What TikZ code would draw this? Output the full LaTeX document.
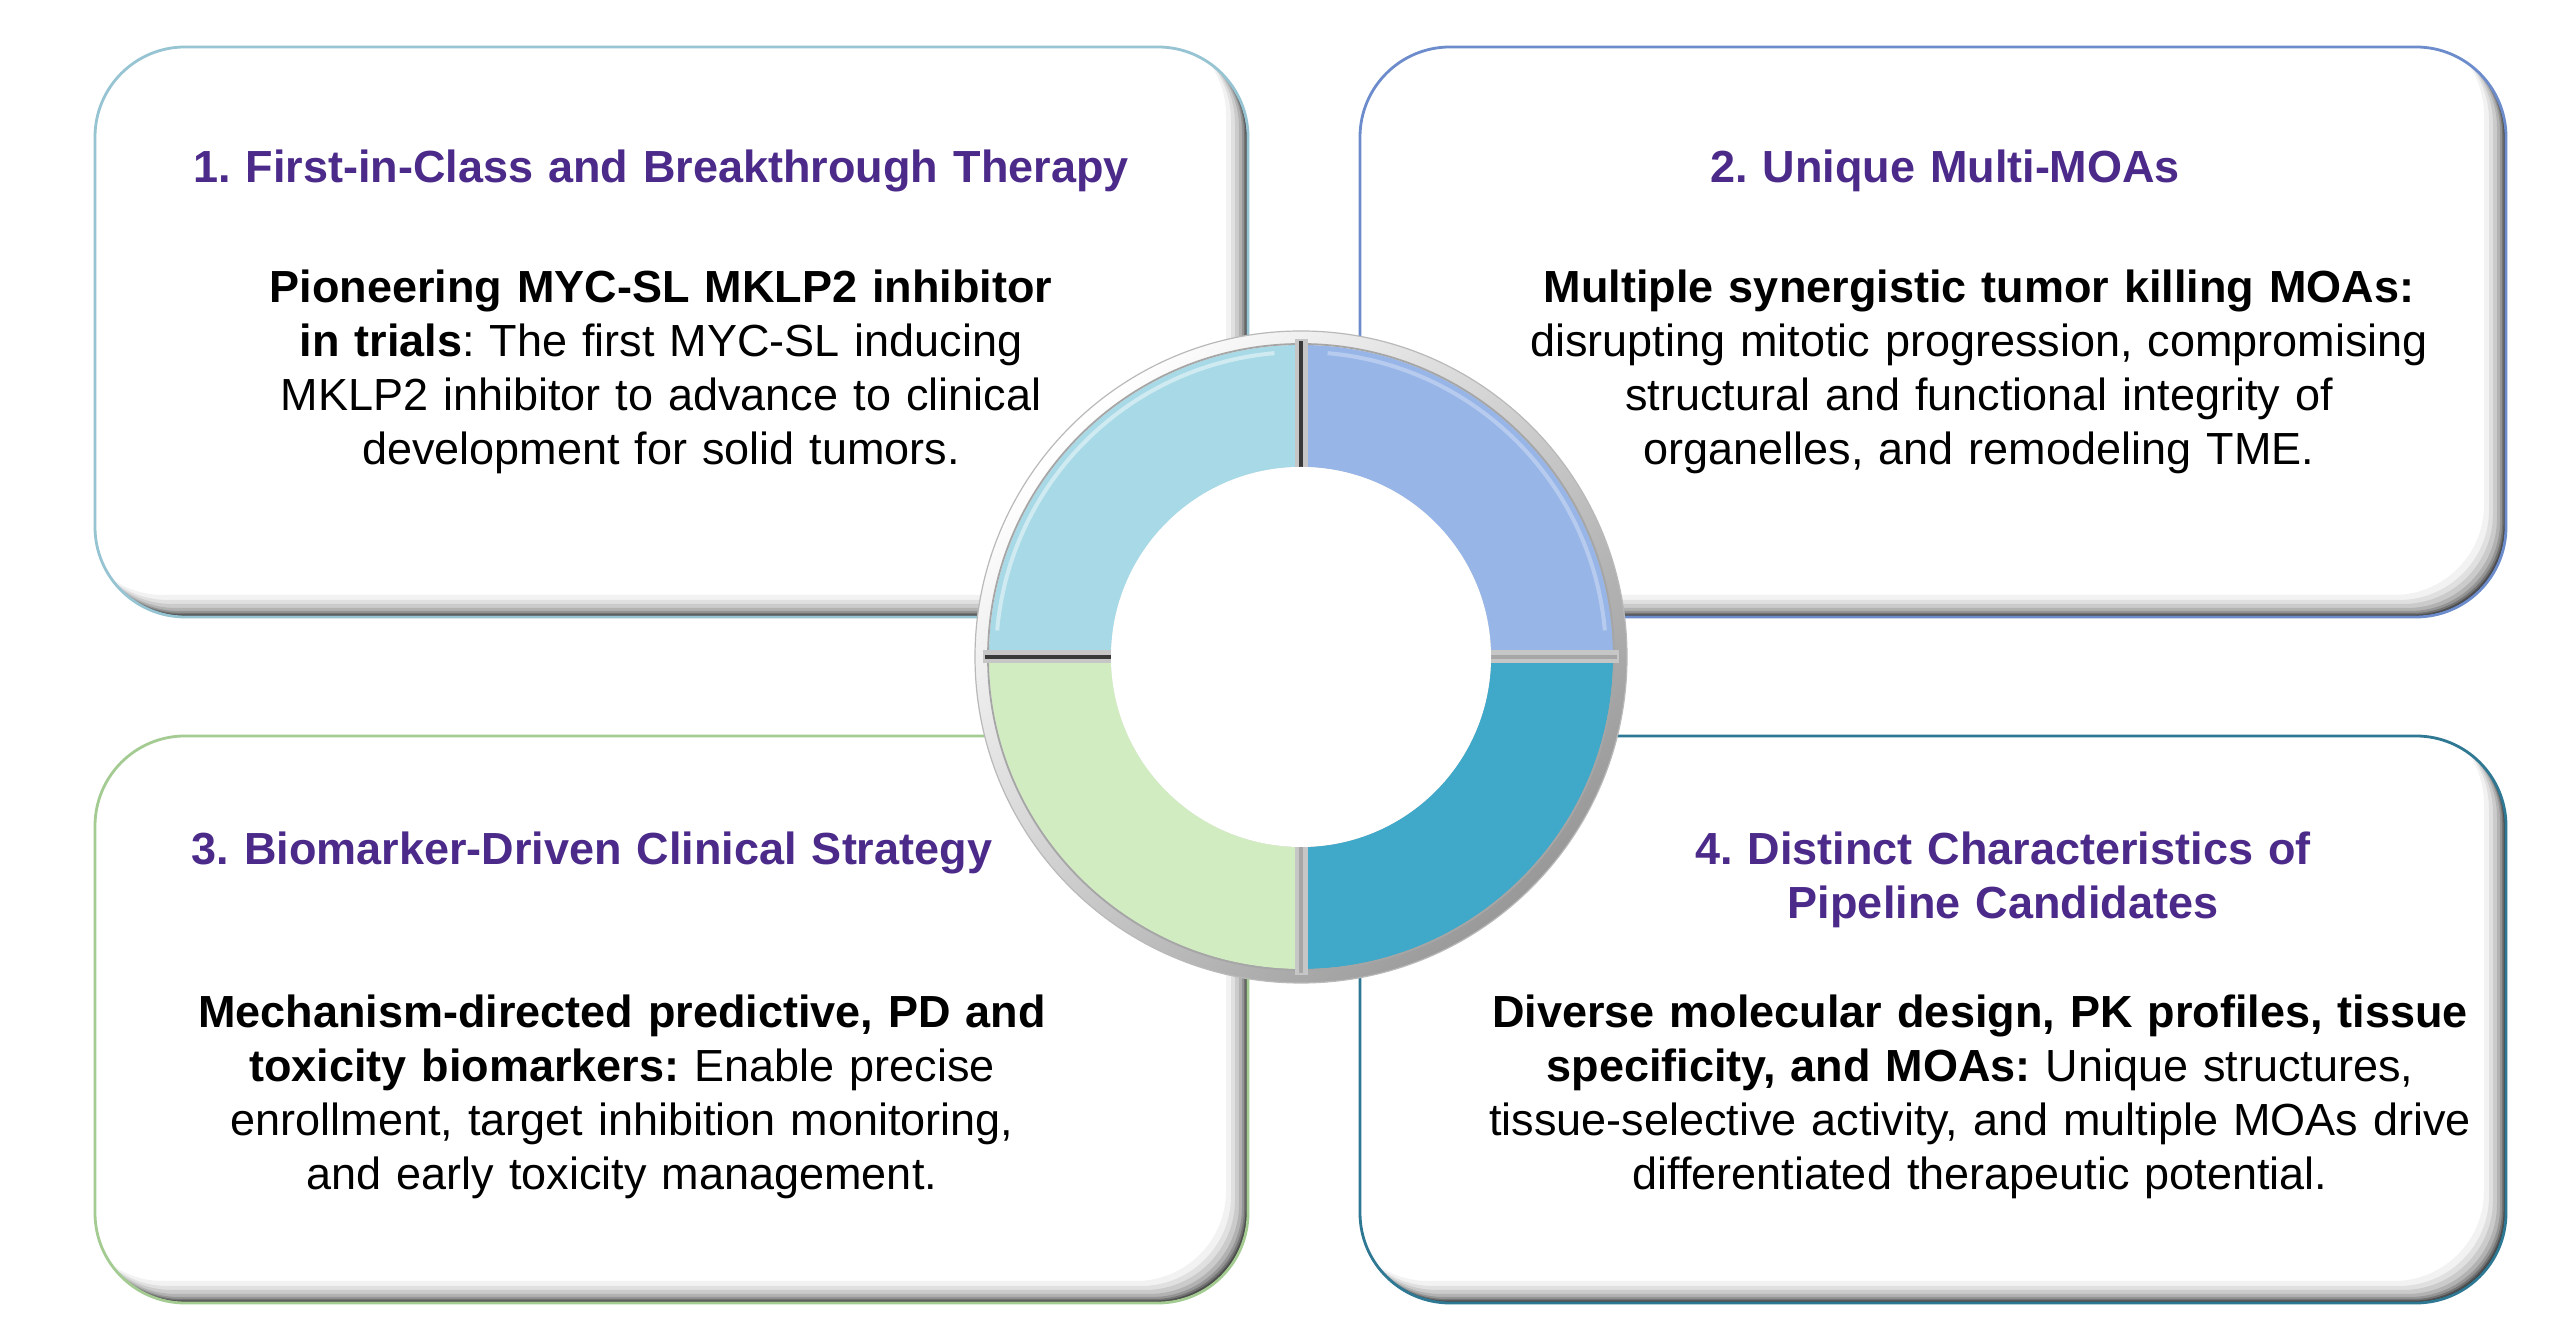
\documentclass[tikz,border=0pt]{standalone}
\usepackage{fontspec}
\setmainfont{Liberation Sans}
\frenchspacing
\definecolor{titlepurple}{RGB}{75,42,138}
\definecolor{segTL}{RGB}{168,217,230}
\definecolor{segTR}{RGB}{152,181,232}
\definecolor{segBR}{RGB}{64,168,200}
\definecolor{segBL}{RGB}{210,236,194}
\definecolor{edgeA}{RGB}{150,196,210}
\definecolor{edgeB}{RGB}{108,140,204}
\definecolor{edgeC}{RGB}{164,204,146}
\definecolor{edgeD}{RGB}{46,120,148}
\newcommand\drawpanel[5]{%
  \fill[white,rounded corners=45pt] (#1,#2) rectangle (#3,#4);
  \begin{scope}
    \clip[rounded corners=45pt] (#1,#2) rectangle (#3,#4);
    \foreach \d/\o in {22/0.05,17/0.07,13/0.09,9/0.12,6/0.16,4/0.22,2.5/0.3,1.2/0.4}{
      \fill[black,opacity=\o,even odd rule,rounded corners=45pt]
        (#1-200,#2-200) rectangle (#3+200,#4+200)
        (#1-\d,#2+\d) rectangle (#3-\d,#4+\d);
    }
  \end{scope}
  \draw[#5,line width=1.4pt,rounded corners=45pt] (#1,#2) rectangle (#3,#4);
}
\tikzset{
  ttl/.style={font=\fontsize{22.5}{27}\selectfont\bfseries, text=titlepurple,
    align=center, text width=700pt, anchor=base, inner sep=0pt},
  bdy/.style={font=\fontsize{22.5}{27}\selectfont, text=black,
    align=center, text width=700pt, anchor=base, inner sep=0pt},
  divider/.style={line width=6.5pt, draw=gray!45},
  dividerc/.style={line width=1.8pt, draw=gray!45!black}
}
\begin{document}
\begin{tikzpicture}[x=0.5pt,y=0.5pt]
\fill[white] (0,0) rectangle (2560,1332);
\useasboundingbox (0,0) rectangle (2560,1332);

% panels
\drawpanel{95}{715}{1248}{1285}{edgeA}
\drawpanel{1360}{715}{2506}{1285}{edgeB}
\drawpanel{95}{29}{1248}{596}{edgeC}
\drawpanel{1360}{29}{2506}{596}{edgeD}

% ring
\begin{scope}[shift={(1301,675)}]
  \shade[top color=white, bottom color=gray!80, shading angle=45] (0,0) circle[radius=326];
  \draw[gray!55,line width=0.6pt] (0,0) circle[radius=326];
  \fill[segTR] (0:312) arc[start angle=0,end angle=90,radius=312] -- (90:190) arc[start angle=90,end angle=0,radius=190] -- cycle;
  \fill[segTL] (90:312) arc[start angle=90,end angle=180,radius=312] -- (180:190) arc[start angle=180,end angle=90,radius=190] -- cycle;
  \fill[segBL] (180:312) arc[start angle=180,end angle=270,radius=312] -- (270:190) arc[start angle=270,end angle=180,radius=190] -- cycle;
  \fill[segBR] (270:312) arc[start angle=270,end angle=360,radius=312] -- (0:190) arc[start angle=0,end angle=-90,radius=190] -- cycle;
  \draw[white,opacity=0.45,line width=2pt] (95:305) arc[start angle=95,end angle=175,radius=305];
  \draw[white,opacity=0.3,line width=2pt] (5:305) arc[start angle=5,end angle=85,radius=305];
  \draw[gray!70,line width=0.9pt] (0,0) circle[radius=313];
  \draw[divider] (0,0) -- (0,318);
  \draw[divider] (0,0) -- (0,-318);
  \draw[divider] (0,0) -- (-318,0);
  \draw[divider] (0,0) -- (318,0);
  \draw[dividerc] (0,0) -- (0,316);
  \draw[dividerc,draw=gray!70] (0,0) -- (0,-316);
  \draw[dividerc] (0,0) -- (-316,0);
  \draw[dividerc,draw=gray!70] (0,0) -- (316,0);
  \fill[white] (0,0) circle[radius=190];
\end{scope}

% texts
\node[ttl] (t1) at (661,1149) {1. First-in-Class and Breakthrough Therapy};
\node[bdy] (b1) at (661,1029) {\textbf{Pioneering MYC-SL MKLP2 inhibitor}\\\textbf{in trials}: The first MYC-SL inducing\\MKLP2 inhibitor to advance to clinical\\development for solid tumors.};

\node[ttl] (t2) at (1945,1149) {2. Unique Multi-MOAs};
\node[bdy] (b2) at (1979,1029) {\textbf{Multiple synergistic tumor killing MOAs:}\\disrupting mitotic progression, compromising\\structural and functional integrity of\\organelles, and remodeling TME.};

\node[ttl] (t3) at (592,467) {3. Biomarker-Driven Clinical Strategy};
\node[bdy] (b3) at (622,304) {\textbf{Mechanism-directed predictive, PD and}\\\textbf{toxicity biomarkers:} Enable precise\\enrollment, target inhibition monitoring,\\and early toxicity management.};

\node[ttl] (t4) at (2003,467) {4. Distinct Characteristics of\\Pipeline Candidates};
\node[bdy] (b4) at (1980,304) {\textbf{Diverse molecular design, PK profiles, tissue}\\\textbf{specificity, and MOAs:} Unique structures,\\tissue-selective activity, and multiple MOAs drive\\differentiated therapeutic potential.};
\end{tikzpicture}
\end{document}
